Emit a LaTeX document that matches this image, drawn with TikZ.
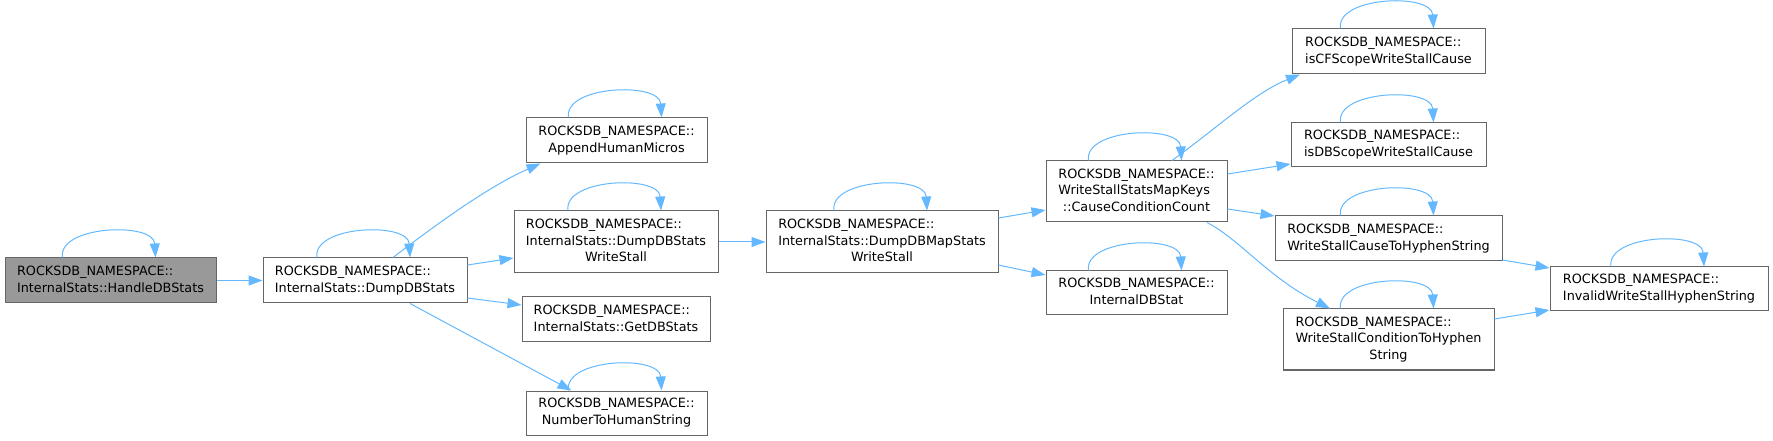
\documentclass[tikz,border=0pt]{standalone}
\usepackage{fontspec}
\setmainfont{DejaVu Sans}
\usetikzlibrary{arrows.meta,calc}
\definecolor{edgec}{HTML}{63B8FF}
\definecolor{bord}{HTML}{666666}
\definecolor{hl}{HTML}{999999}
\newcommand\labtwo[2]{\begin{tabular}{@{}l@{}}#1\\\multicolumn{1}{@{}c@{}}{#2}\end{tabular}}
\newcommand\labthree[3]{\begin{tabular}{@{}l@{}}#1\\#2\\\multicolumn{1}{@{}c@{}}{#3}\end{tabular}}
\newcommand\gnode[7][]{%
  \pgfmathsetmacro\gncx{(#3+#5)/2}%
  \pgfmathsetmacro\gncy{(#4+#6)/2}%
  \pgfmathsetmacro\gnw{(#5-#3)*0.75}%
  \pgfmathsetmacro\gnh{(#6-#4)*0.75}%
  \node[fn,#1,minimum width=\gnw pt,minimum height=\gnh pt] (#2) at (\gncx,\gncy) {#7};}
\newcommand\selfloop[1]{\draw[edge] ($(#1.north)+(-48,0)$) .. controls +(-5,-32) and +(-2,-36) .. ($(#1.north)+(45,0)$);}
\newcommand\NS{ROCKSDB\_NAMESPACE::}
\tikzset{
  fn/.style={draw=bord, fill=white, line width=0.75pt, inner sep=0pt, font=\fontsize{9.6pt}{12.5pt}\selectfont, text=black},
  hilite/.style={fill=hl},
  edge/.style={draw=edgec, line width=0.75pt, -{Triangle[length=10.5pt,width=7.5pt]}}
}
\begin{document}
\begin{tikzpicture}[x=0.75pt,y=-0.75pt]
\useasboundingbox (0,0) rectangle (1773,441);
\gnode[hilite]{hds}{5}{258}{216}{303}{\labtwo{\NS}{InternalStats::HandleDBStats}}
\gnode{dds}{263}{258}{467}{303}{\labtwo{\NS}{InternalStats::DumpDBStats}}
\gnode{ahm}{526}{118}{707}{163}{\labtwo{\NS}{AppendHumanMicros}}
\gnode{ddsw}{514}{211}{718}{273}{\labthree{\NS}{InternalStats::DumpDBStats}{WriteStall}}
\gnode{gdb}{522}{297}{710}{342}{\labtwo{\NS}{InternalStats::GetDBStats}}
\gnode{nths}{526}{391}{707}{435}{\labtwo{\NS}{NumberToHumanString}}
\gnode{ddmsw}{766}{211}{998}{273}{\labthree{\NS}{InternalStats::DumpDBMapStats}{WriteStall}}
\gnode{ccc}{1046}{161}{1227}{222}{\labthree{\NS}{WriteStallStatsMapKeys}{::CauseConditionCount}}
\gnode{idb}{1046}{271}{1227}{315}{\labtwo{\NS}{InternalDBStat}}
\gnode{iscf}{1292}{29}{1485}{74}{\labtwo{\NS}{isCFScopeWriteStallCause}}
\gnode{isdb}{1291}{123}{1486}{167}{\labtwo{\NS}{isDBScopeWriteStallCause}}
\gnode{cth}{1275}{216}{1502}{261}{\labtwo{\NS}{WriteStallCauseToHyphenString}}
\gnode{coth}{1283}{309}{1494}{370}{\labthree{\NS}{WriteStallConditionToHyphen}{String}}
\gnode{inv}{1550}{267}{1768}{311}{\labtwo{\NS}{InvalidWriteStallHyphenString}}

\foreach \n in {hds,dds,ahm,ddsw,nths,ddmsw,ccc,idb,iscf,isdb,cth,coth,inv}{\selfloop{\n}}

\draw[edge] (hds.east) -- (dds.west);
\draw[edge] ($(dds.north)+(28,0)$) .. controls +(47,-36) and +(-50,22) .. ($(ahm.south)+(-76,0)$);
\draw[edge] ($(dds.east)+(0,-15.5)$) -- ($(ddsw.west)+(0,16)$);
\draw[edge] ($(dds.east)+(0,17.5)$) -- ($(gdb.west)+(0,-14.5)$);
\draw[edge] ($(dds.south)+(45,0)$) -- ($(nths.north)+(-45,0)$);
\draw[edge] (ddsw.east) -- (ddmsw.west);
\draw[edge] ($(ddmsw.east)+(0,-24)$) -- ($(ccc.west)+(0,18.5)$);
\draw[edge] ($(ddmsw.east)+(0,23)$) -- ($(idb.west)+(0,-18)$);
\draw[edge] ($(ccc.north)+(35.5,0)$) .. controls +(43,-31) and +(-45,18) .. ($(iscf.south)+(-88.5,0)$);
\draw[edge] ($(ccc.east)+(0,-17.5)$) -- ($(isdb.west)+(0,19)$);
\draw[edge] ($(ccc.east)+(0,17.5)$) -- ($(cth.west)+(0,-22.5)$);
\draw[edge] ($(ccc.south)+(70.5,0)$) .. controls +(33,17) and +(-62,-31) .. ($(coth.north)+(-58.5,0)$);
\draw[edge] ($(cth.east)+(0,21.5)$) -- ($(inv.west)+(0,-21)$);
\draw[edge] ($(coth.east)+(0,-20.5)$) -- ($(inv.west)+(0,21)$);
\end{tikzpicture}
\end{document}
